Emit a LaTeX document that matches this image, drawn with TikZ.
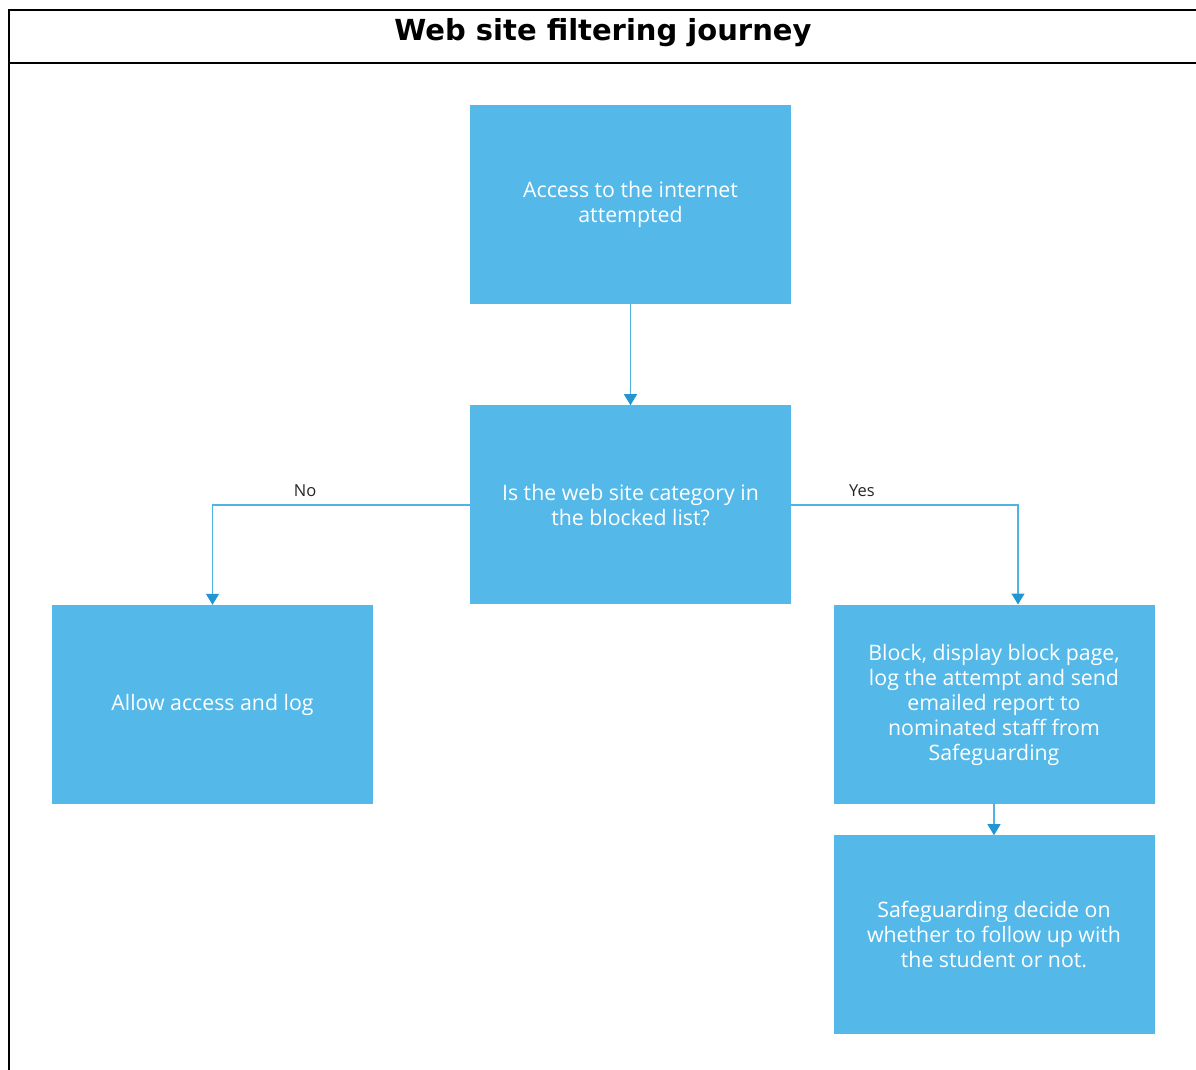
\documentclass[tikz,border=0pt]{standalone}
\usepackage{fontspec}
\setmainfont{Open Sans}
\newfontfamily\titlefont{DejaVu Sans}
\usetikzlibrary{arrows.meta, positioning}

\definecolor{boxblue}{HTML}{54B9E9}
\definecolor{lineblue}{HTML}{4FB3E6}
\definecolor{tipblue}{HTML}{2196D3}

\tikzset{
  stepbox/.style={rectangle, fill=boxblue, minimum width=321pt, minimum height=199pt,
    inner sep=0pt, text=white, font=\fontsize{21.3}{25}\selectfont, align=center},
  flow/.style={draw=lineblue, line width=1.2pt, -{Triangle[length=11pt, width=13pt, fill=tipblue, color=tipblue]}},
  answer/.style={font=\fontsize{16.5}{19}\selectfont, text=black!85}
}

\begin{document}
\begin{tikzpicture}[x=1pt, y=-1pt, node distance=101pt, every node/.style={align=center}]
				\useasboundingbox (0,0) rectangle (1196,1070);
				% Frame
				\draw[line width=2pt] (1196,10) -- (9,10) -- (9,1070);
				\draw[line width=2pt] (9,63) -- (1196,63);
				\node (title) at (603,33) {\titlefont\bfseries\fontsize{29}{34}\selectfont Web site filtering journey};
				
				% Nodes
				\node (access) [stepbox] at (630.5,204.5) {Access to the internet\\attempted};
				\node (check) [stepbox, below=of access] {Is the web site category in\\the blocked list?};
				\node (allow) [stepbox] at (212.5,704.5) {Allow access and log};
				\node (block) [stepbox] at (994,704.5) {Block, display block page,\\log the attempt and send\\emailed report to\\nominated staff from\\Safeguarding};
				\node (decide) [stepbox, below=31pt of block] {Safeguarding decide on\\whether to follow up with\\the student or not.};
				\coordinate (yesend) at (1018,604.5);
				
				% Arrows
				\draw[flow] (access) -- (check);
				\draw[flow] (check.west) -| (allow.north) node[answer, pos=0.32, above=4pt] {No};
				\draw[flow] (check.east) -| (yesend) node[answer, pos=0.156, above=4pt] {Yes};
				\draw[flow] (block) -- (decide);
			\end{tikzpicture}
\end{document}
